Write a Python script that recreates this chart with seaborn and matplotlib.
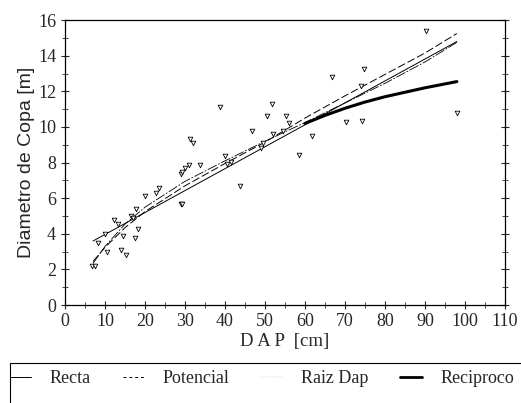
import numpy as np
import pandas as pd
import matplotlib
matplotlib.use("Agg")
import matplotlib.pyplot as plt
import seaborn as sns
from matplotlib.ticker import MultipleLocator
from matplotlib.lines import Line2D

# observed trees: DAP [cm] vs crown diameter [m]
dap = [6.8, 7.5, 8.2, 10.0, 10.6, 12.3, 13.3, 14.0, 14.6, 15.2, 16.6, 16.9,
       17.6, 17.7, 18.2, 20.1, 22.7, 23.6, 29.0, 29.3, 29.0, 29.2, 30.0, 31.0,
       31.25, 31.9, 33.7, 38.75, 40.0, 40.4, 41.5, 43.75, 46.7, 49.0, 49.6,
       50.6, 51.8, 52.0, 54.6, 55.25, 56.0, 58.6, 61.7, 66.7, 70.2, 74.0,
       74.3, 74.75, 90.4, 98.1]
copa = [2.2, 2.2, 3.5, 4.0, 3.0, 4.8, 4.55, 3.1, 3.9, 2.8, 5.0, 4.9,
        3.75, 5.4, 4.25, 6.1, 6.3, 6.55, 5.7, 5.7, 7.35, 7.5, 7.7, 7.85,
        9.3, 9.1, 7.85, 11.1, 8.35, 7.9, 8.05, 6.7, 9.8, 8.8, 9.1,
        10.6, 11.3, 9.6, 9.8, 10.6, 10.2, 8.45, 9.5, 12.8, 10.3, 12.3,
        10.35, 13.25, 15.4, 10.8]

# fitted curves
recta_x = [7, 98]
recta_y = [3.6, 14.8]
pot_x = [7, 10, 15, 20, 30, 40, 50, 60, 70, 80, 90, 98]
pot_y = [2.45, 3.25, 4.35, 5.25, 6.7, 7.95, 9.15, 10.5, 11.75, 12.95, 14.15, 15.25]
raiz_x = [7, 10, 15, 20, 30, 40, 50, 60, 70, 80, 90, 98]
raiz_y = [2.35, 3.3, 4.55, 5.5, 6.95, 8.1, 9.2, 10.25, 11.35, 12.45, 13.65, 14.75]
recip_x = [60, 65, 70, 75, 80, 85, 90, 98]
recip_y = [10.2, 10.65, 11.05, 11.4, 11.7, 11.95, 12.2, 12.55]

sns.set_style("ticks")
plt.rcParams['font.family'] = ['Liberation Serif', 'DejaVu Serif']

fig = plt.figure(figsize=(5.21, 4.03), dpi=100)
ax = fig.add_axes([0.125, 0.243, 0.844, 0.707])

pts = pd.DataFrame({"dap": dap, "copa": copa})
sns.scatterplot(data=pts, x="dap", y="copa", ax=ax, marker="v", s=11,
                facecolor="white", edgecolor="black", linewidth=0.6, zorder=3)

sns.lineplot(x=recta_x, y=recta_y, ax=ax, color="black", lw=0.7)
sns.lineplot(x=pot_x, y=pot_y, ax=ax, color="black", lw=0.7, linestyle=(0, (8, 3)))
sns.lineplot(x=raiz_x, y=raiz_y, ax=ax, color="black", lw=0.6, linestyle=(0, (12, 2, 2, 2)))
sns.lineplot(x=recip_x, y=recip_y, ax=ax, color="black", lw=2.2)

ax.set_xlim(0, 110)
ax.set_ylim(0, 16)
ax.xaxis.set_major_locator(MultipleLocator(10))
ax.xaxis.set_minor_locator(MultipleLocator(5))
ax.yaxis.set_major_locator(MultipleLocator(2))
ax.yaxis.set_minor_locator(MultipleLocator(1))
ax.tick_params(axis='both', which='major', direction='inout', length=6, width=0.8, labelsize=13)
ax.tick_params(axis='both', which='minor', direction='inout', length=4, width=0.6)
ax.tick_params(axis='x', which='major', pad=3)
ax.tick_params(axis='y', which='both', right=True, labelright=False)
for s in ax.spines.values():
    s.set_linewidth(0.9)
    s.set_color("black")

ax.set_xlabel("D A P  [cm]", fontsize=13.5, labelpad=2)
ax.set_ylabel("Diametro de Copa [m]", fontsize=14, family=['Liberation Sans', 'DejaVu Sans'], labelpad=2)

handles = [
    Line2D([], [], color="black", lw=0.7),
    Line2D([], [], color="black", lw=0.7, linestyle=(0, (3, 3))),
    Line2D([], [], color="black", lw=0.3, linestyle=(0, (1, 6))),
    Line2D([], [], color="black", lw=2.0),
]
labels = ["Recta", "Potencial", "Raiz Dap", "Reciproco"]
leg = fig.legend(handles, labels, loc="upper left", ncol=4, mode="expand",
                 bbox_to_anchor=(0.005, 0.099, 0.995, 0.0), fontsize=13,
                 frameon=False, handlelength=1.2, handletextpad=1.0,
                 borderaxespad=0, borderpad=0.4)

# box round the legend: only its top and left edges fall inside the image
box = plt.Rectangle((0.019, -0.1), 1.1, 0.199, transform=fig.transFigure,
                    fill=False, edgecolor="black", linewidth=0.8)
fig.add_artist(box)

fig.savefig("out.png", dpi=100)
